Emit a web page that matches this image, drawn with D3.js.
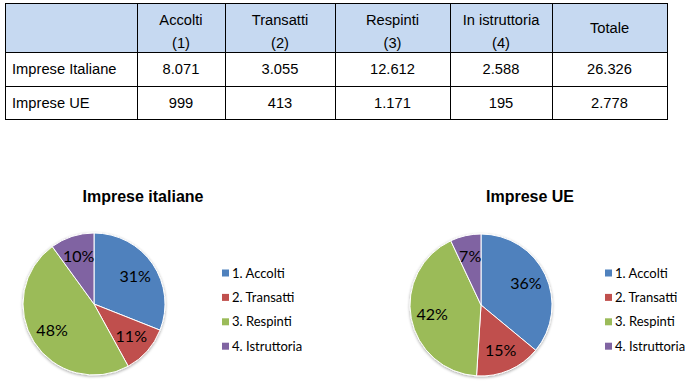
<!DOCTYPE html>
<html><head><meta charset="utf-8">
<script src="https://cdn.jsdelivr.net/npm/d3@7"></script>
<style>body{margin:0;background:#fff}svg{display:block}</style>
</head><body>
<svg id="c" width="690" height="384"></svg>
<script>
// ---- data ----
const headerLine1 = ["", "Accolti", "Transatti", "Respinti", "In istruttoria", "Totale"];
const headerLine2 = ["", "(1)", "(2)", "(3)", "(4)", ""];
const rowLabels = ["Imprese Italiane", "Imprese UE"];
const italianeValues = ["8.071", "3.055", "12.612", "2.588", "26.326"];
const ueValues = ["999", "413", "1.171", "195", "2.778"];
const legendLabels = ["1. Accolti", "2. Transatti", "3. Respinti", "4. Istruttoria"];
const pieTitles = ["Imprese italiane", "Imprese UE"];
const italianePct = [31, 11, 48, 10];
const uePct = [36, 15, 42, 7];
const colors = ["#4F81BD", "#C0504D", "#9BBB59", "#8064A2"];

const svg = d3.select("#c");

// ---- table ----
const colEdges = [5, 137, 225, 335, 450, 552, 667];
const rowEdges = [3, 52, 86, 119];
const tbl = svg.append("g");
tbl.append("rect").attr("x", colEdges[0]).attr("y", rowEdges[0])
  .attr("width", colEdges[6]-colEdges[0]).attr("height", rowEdges[1]-rowEdges[0])
  .attr("fill", "#C6D9F1");
const tfont = "Liberation Sans, Arial, sans-serif";
const tsize = 14.7;
headerLine1.forEach((t, i) => {
  if (!t) return;
  const cx = (colEdges[i] + colEdges[i+1]) / 2;
  const two = headerLine2[i] !== "";
  tbl.append("text").attr("x", cx).attr("y", two ? 25 : 33)
    .attr("text-anchor", "middle").attr("font-family", tfont).attr("font-size", tsize).text(t);
  if (two) tbl.append("text").attr("x", cx).attr("y", 48)
    .attr("text-anchor", "middle").attr("font-family", tfont).attr("font-size", tsize).text(headerLine2[i]);
});
[italianeValues, ueValues].forEach((vals, r) => {
  const y = (rowEdges[r+1] + rowEdges[r+2]) / 2 + 5;
  tbl.append("text").attr("x", 12).attr("y", y).attr("font-family", tfont).attr("font-size", tsize).text(rowLabels[r]);
  vals.forEach((v, i) => {
    tbl.append("text").attr("x", (colEdges[i+1] + colEdges[i+2]) / 2).attr("y", y)
      .attr("text-anchor", "middle").attr("font-family", tfont).attr("font-size", tsize).text(v);
  });
});
rowEdges.forEach(y => tbl.append("line").attr("x1", colEdges[0]).attr("x2", colEdges[6])
  .attr("y1", y + 0.5).attr("y2", y + 0.5).attr("stroke", "#000"));
colEdges.forEach(x => tbl.append("line").attr("x1", x + 0.5).attr("x2", x + 0.5)
  .attr("y1", rowEdges[0]).attr("y2", rowEdges[3] + 1).attr("stroke", "#000"));

// ---- pies ----
const defs = svg.append("defs");
const flt = defs.append("filter").attr("id", "sh").attr("x", "-20%").attr("y", "-20%").attr("width", "140%").attr("height", "140%");
flt.append("feGaussianBlur").attr("in", "SourceAlpha").attr("stdDeviation", 1.5);
flt.append("feOffset").attr("dx", 0).attr("dy", 1).attr("result", "ob");
flt.append("feComponentTransfer").append("feFuncA").attr("type", "linear").attr("slope", 0.35);
const fm = flt.append("feMerge"); fm.append("feMergeNode"); fm.append("feMergeNode").attr("in", "SourceGraphic");

const pieFont = "Lato, 'Open Sans', sans-serif";
const pies = [
  {title: pieTitles[0], values: italianePct, cx: 94, cy: 304, tx: 143, lx: 222},
  {title: pieTitles[1], values: uePct, cx: 481, cy: 305, tx: 530, lx: 605}
];
const r = 71;
const pie = d3.pie().sort(null);
const arc = d3.arc().innerRadius(0).outerRadius(r);
const labelArc = d3.arc().innerRadius(r * 0.7).outerRadius(r * 0.7);

pies.forEach(p => {
  svg.append("text").attr("x", p.tx).attr("y", 202).attr("text-anchor", "middle")
    .attr("font-family", "Liberation Sans, Arial, sans-serif").attr("font-weight", "bold")
    .attr("font-size", 16).text(p.title);
  const g = svg.append("g").attr("transform", `translate(${p.cx},${p.cy})`);
  const arcs = pie(p.values);
  const sg = g.append("g").attr("filter", "url(#sh)");
  sg.selectAll("path").data(arcs).join("path").attr("d", arc)
    .attr("fill", (d, i) => colors[i]).attr("stroke", "#fff").attr("stroke-width", 1);
  g.selectAll("text").data(arcs).join("text")
    .attr("transform", d => `translate(${labelArc.centroid(d)})`)
    .attr("text-anchor", "middle").attr("dy", "0.35em")
    .attr("font-family", pieFont).attr("font-size", 16).attr("fill", "#000")
    .text(d => d.data + "%");
  const lg = svg.append("g").attr("transform", `translate(${p.lx},0)`);
  legendLabels.forEach((t, i) => {
    const y = 273 + i * 24.4;
    lg.append("rect").attr("x", 0).attr("y", y - 3.5).attr("width", 7).attr("height", 7).attr("fill", colors[i]);
    lg.append("text").attr("x", 10).attr("y", y).attr("dy", "0.35em")
      .attr("font-family", pieFont).attr("font-size", 13).attr("fill", "#000").text(t);
  });
});
</script>
</body></html>
